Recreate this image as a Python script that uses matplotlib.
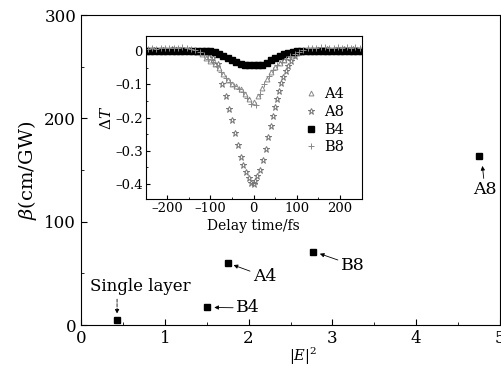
import numpy as np
import matplotlib.pyplot as plt
from matplotlib.ticker import MultipleLocator

plt.rcParams['font.family'] = 'DejaVu Serif'
plt.rcParams['mathtext.fontset'] = 'dejavuserif'
plt.rcParams['axes.unicode_minus'] = False

# main panel: beta vs |E|^2
samples = ['Single layer', 'B4', 'A4', 'B8', 'A8']
e2 = [0.43, 1.50, 1.75, 2.77, 4.75]
beta = [5, 17, 60, 71, 164]

# inset: delta T vs delay time
t_a4 = [-250, -240, -230, -220, -210, -200, -190, -180, -170, -160, -150, -140, -130,
        -120, -110, -100, -90, -80, -70, -60, -50, -40, -30, -20, -10, 0, 10, 20, 30,
        40, 50, 60, 70, 80, 90, 100, 110, 120, 130, 140, 150, 160, 170, 180, 190, 200,
        210, 220, 230, 240, 250]
dt_a4 = [0.003, 0.002, 0.004, 0.003, 0.002, 0.004, 0.003, 0.005, 0.006, 0.004, 0.002,
         0.001, -0.003, -0.010, -0.020, -0.030, -0.038, -0.050, -0.068, -0.086, -0.098,
         -0.106, -0.115, -0.128, -0.145, -0.152, -0.135, -0.110, -0.085, -0.064, -0.048,
         -0.036, -0.027, -0.019, -0.012, -0.006, -0.002, 0.001, 0.003, 0.004, 0.005,
         0.004, 0.005, 0.004, 0.006, 0.005, 0.004, 0.005, 0.004, 0.005, 0.004]

t_a8 = [-250, -230, -210, -190, -170, -150, -130, -115, -103, -93, -83, -73, -64, -57,
        -49, -43, -36, -30, -24, -17, -11, -5, 0, 4, 8, 14, 21, 29, 34, 40, 45, 49, 53,
        59, 64, 68, 74, 80, 87, 95, 106, 121, 135, 150, 170, 190, 210, 230, 250]
dt_a8 = [0.003, 0.004, 0.002, 0.005, 0.003, 0.004, 0.001, -0.002, -0.008, -0.020,
         -0.040, -0.099, -0.136, -0.173, -0.206, -0.246, -0.283, -0.318, -0.342, -0.365,
         -0.382, -0.397, -0.399, -0.392, -0.377, -0.357, -0.327, -0.293, -0.258, -0.225,
         -0.196, -0.168, -0.143, -0.119, -0.097, -0.079, -0.061, -0.044, -0.029, -0.014,
         -0.004, -0.001, 0.002, 0.004, 0.005, 0.004, 0.006, 0.005, 0.004]

t_b4 = t_a4
dt_b4 = [-0.001, -0.001, -0.001, -0.001, -0.001, -0.001, -0.001, -0.001, -0.001, -0.001,
         -0.001, -0.001, -0.001, -0.001, -0.001, -0.001, -0.004, -0.009, -0.015, -0.021,
         -0.027, -0.033, -0.038, -0.041, -0.042, -0.042, -0.042, -0.041, -0.036, -0.028,
         -0.021, -0.015, -0.010, -0.006, -0.003, -0.001, -0.001, -0.001, -0.001, -0.001,
         -0.001, -0.001, -0.001, -0.001, -0.001, -0.001, -0.001, -0.001, -0.001, -0.001,
         -0.001]

t_b8 = [-245, -235, -225, -215, -205, -195, -185, -175, -165, -155, -145, -135, -125,
        -115, -105, -95, -85, -75, -65, -55, -45, -35, -25, -15, -5, 5, 15, 25, 35, 45,
        55, 65, 75, 85, 95, 105, 115, 125, 135, 145, 155, 165, 175, 185, 195, 205, 215,
        225, 235, 245]
dt_b8 = [0.006, 0.008, 0.007, 0.009, 0.008, 0.010, 0.008, 0.009, 0.012, 0.008, 0.006,
         0.004, -0.002, -0.012, -0.024, -0.034, -0.044, -0.062, -0.080, -0.094, -0.104,
         -0.113, -0.124, -0.140, -0.160, -0.162, -0.128, -0.100, -0.076, -0.057, -0.043,
         -0.032, -0.023, -0.015, -0.008, -0.002, 0.003, 0.008, 0.010, 0.009, 0.011,
         0.012, 0.010, 0.009, 0.011, 0.010, 0.012, 0.009, 0.011, 0.010]

inset_xticks = [-200, -100, 0, 100, 200]
inset_yticks = [0, -0.1, -0.2, -0.3, -0.4]

fig = plt.figure(figsize=(5.02, 3.68), dpi=100)
ax = fig.add_axes([0.1614, 0.1168, 0.8346, 0.8422])
ax.plot(e2, beta, 's', color='k', ms=4)
ax.set_xlim(0, 5)
ax.set_ylim(0, 300)
ax.xaxis.set_major_locator(MultipleLocator(1))
ax.xaxis.set_minor_locator(MultipleLocator(0.5))
ax.yaxis.set_major_locator(MultipleLocator(100))
ax.yaxis.set_minor_locator(MultipleLocator(50))
ax.tick_params(which='both', direction='in', top=False, right=False, labelsize=12)
ax.tick_params(which='major', length=4)
ax.tick_params(which='minor', length=2)
ax.set_xlabel(r'$|E|^2$', fontsize=10.5)
ax.xaxis.set_label_coords(0.53, -0.068)
ax.set_ylabel(r'$\beta$(cm/GW)', fontsize=14)

arr = dict(arrowstyle='-|>', color='k', lw=0.6, mutation_scale=6, shrinkA=0, shrinkB=0)
ax.annotate('Single layer', xy=(0.43, 11), xytext=(0.71, 37), fontsize=12, ha='center', va='center')
ax.annotate('', xy=(0.43, 11), xytext=(0.43, 25),
            arrowprops=dict(arr, linestyle='--'))
ax.annotate('B4', xy=(1.59, 17), xytext=(1.99, 16.5), fontsize=12.5, ha='center', va='center',
            arrowprops=arr)
ax.annotate('A4', xy=(1.82, 58), xytext=(2.19, 47), fontsize=12.5, ha='center', va='center',
            arrowprops=arr)
ax.annotate('B8', xy=(2.85, 69), xytext=(3.24, 58), fontsize=12.5, ha='center', va='center',
            arrowprops=arr)
ax.annotate('A8', xy=(4.79, 154), xytext=(4.82, 131), fontsize=12.5, ha='center', va='center',
            arrowprops=arr)

# inset
ins = fig.add_axes([0.290, 0.459, 0.4305, 0.443])
ins.plot(t_a4, dt_a4, '^', ms=3.5, mfc='none', mec='#888888', mew=0.7, label='A4')
ins.plot(t_a8, dt_a8, '*', ms=4.5, mfc='none', mec='#777777', mew=0.7, label='A8')
ins.plot(t_b4, dt_b4, 's', ms=4.8, color='k', label='B4')
ins.plot(t_b8, dt_b8, '+', ms=4, mec='#888888', mew=0.7, label='B8')
ins.set_xlim(-250, 250)
ins.set_ylim(-0.445, 0.045)
ins.xaxis.set_minor_locator(MultipleLocator(50))
ins.yaxis.set_minor_locator(MultipleLocator(0.05))
ins.set_xticks(inset_xticks)
ins.set_xticklabels([f'{v:d}'.replace('-', '\u2013') for v in inset_xticks])
ins.set_yticks(inset_yticks)
ins.set_yticklabels(['0' if v == 0 else f'{v:.1f}'.replace('-', '\u2013') for v in inset_yticks])
ins.tick_params(which='both', direction='in', top=False, right=False, labelsize=9.5, pad=2)
ins.tick_params(which='major', length=3)
ins.tick_params(which='minor', length=1.5)
ins.set_xlabel('Delay time/fs', fontsize=10, labelpad=3)
ins.set_ylabel(r'$\Delta T$', fontsize=11, labelpad=1)
ins.legend(loc='center right', bbox_to_anchor=(0.92, 0.48), frameon=False, fontsize=10.5,
           handlelength=0.8, handletextpad=0.5, labelspacing=0.25, borderpad=0,
           borderaxespad=0)

fig.savefig('out.png', dpi=100)
